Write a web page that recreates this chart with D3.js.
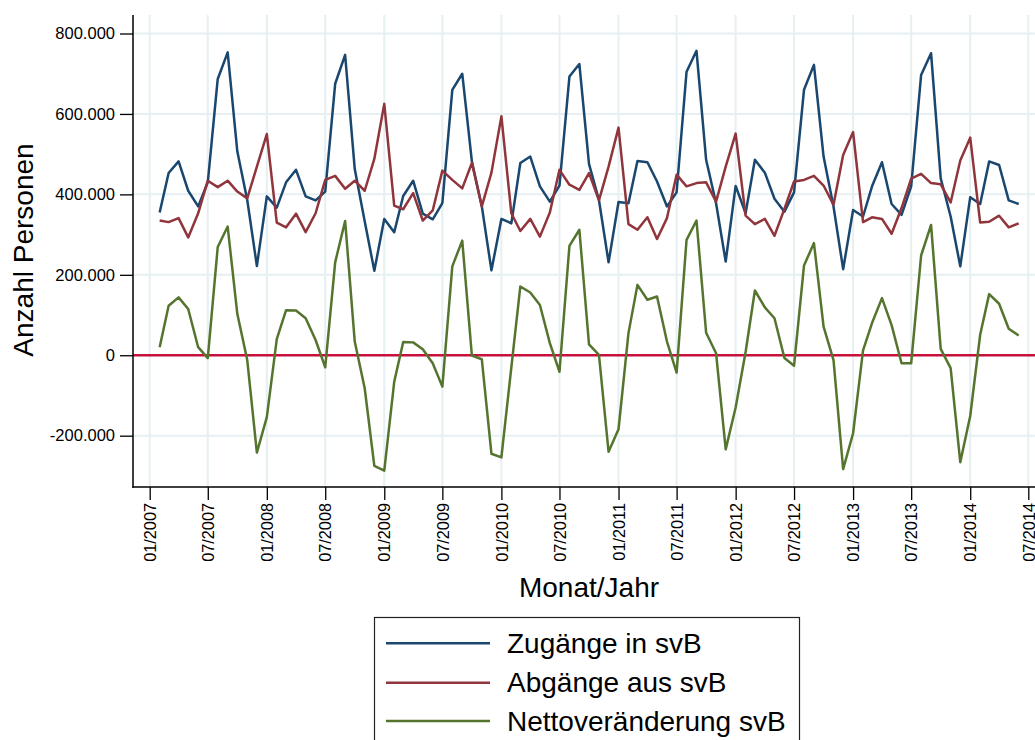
<!DOCTYPE html>
<html>
<head>
<meta charset="utf-8">
<script src="https://cdn.jsdelivr.net/npm/d3@7"></script>
<style>
  html, body { margin: 0; padding: 0; background: #fff; }
  svg { display: block; font-family: "Liberation Sans", Arial, Helvetica, sans-serif; }
</style>
</head>
<body>
<svg id="chart" width="1035" height="740"></svg>
<script>
// ---- Data (thousands of persons), monthly 02/2007 .. 06/2014 ----
const startMonth = [2007, 1]; // year, month index (0-based) -> Feb 2007
const zugaenge = [
  355, 453, 482, 409, 370, 430, 687, 753, 507, 386, 222,
  395, 367, 430, 461, 395, 385, 407, 675, 747, 463, 333, 210,
  339, 306, 396, 434, 352, 338, 378, 660, 700, 482, 370, 211,
  339, 328, 478, 494, 420, 382, 422, 693, 724, 476, 386, 231,
  381, 378, 483, 480, 432, 370, 405, 705, 757, 486, 378, 233,
  421, 353, 486, 454, 389, 357, 405, 660, 722, 494, 370, 214,
  361, 345, 420, 480, 376, 349, 420, 697, 751, 440, 345, 221,
  393, 376, 482, 473, 385, 376
];
const abgaenge = [
  335, 331, 341, 293, 353, 434, 418, 434, 407, 390, 469,
  550, 330, 318, 352, 306, 353, 436, 446, 414, 434, 409, 488,
  625, 372, 363, 403, 335, 360, 459, 436, 415, 478, 370, 454,
  594, 353, 309, 339, 295, 355, 461, 424, 411, 453, 385, 469,
  566, 326, 312, 343, 289, 341, 449, 420, 428, 430, 382, 469,
  551, 347, 326, 339, 297, 364, 432, 436, 446, 422, 374, 498,
  555, 331, 343, 339, 302, 366, 439, 451, 428, 425, 380, 484,
  541, 330, 332, 347, 318, 328
];
const netto = [
  20, 123, 144, 115, 20, -7, 269, 320, 103, -12, -242,
  -154, 40, 112, 111, 92, 38, -30, 231, 334, 34, -82, -275,
  -287, -66, 33, 32, 15, -20, -78, 221, 285, -1, -10, -245,
  -254, -30, 171, 156, 125, 30, -41, 272, 312, 27, 1, -240,
  -184, 55, 175, 138, 146, 34, -43, 287, 335, 56, 5, -234,
  -130, 8, 161, 119, 92, -7, -26, 223, 279, 71, -12, -283,
  -194, 12, 80, 142, 75, -20, -20, 248, 324, 16, -32, -266,
  -151, 51, 152, 128, 66, 49
];
const seriesNames = ["Zugänge in svB", "Abgänge aus svB", "Nettoveränderung svB"];
const seriesColors = ["#1a476f", "#90353b", "#55752f"];
const yTickValues = [-200, 0, 200, 400, 600, 800];
const yTickLabels = ["-200.000", "0", "200.000", "400.000", "600.000", "800.000"];
const xTickLabels = ["01/2007","07/2007","01/2008","07/2008","01/2009","07/2009","01/2010","07/2010",
                     "01/2011","07/2011","01/2012","07/2012","01/2013","07/2013","01/2014","07/2014"];
const yTitle = "Anzahl Personen";
const xTitle = "Monat/Jahr";

// ---- Layout ----
const svg = d3.select("#chart");
const plotLeft = 133, plotRight = 1045, plotTop = 15, plotBottom = 487;

const months = zugaenge.map((_, i) => new Date(Date.UTC(startMonth[0], startMonth[1] + i, 1)));
const xTickDates = xTickLabels.map(s => { const [m, y] = s.split("/"); return new Date(Date.UTC(+y, +m - 1, 1)); });

const x = d3.scaleUtc()
  .domain([new Date(Date.UTC(2007, 0, 1)), new Date(Date.UTC(2014, 6, 1))])
  .range([149.7, 1028.3]);
const y = d3.scaleLinear().domain([-327.6, 846]).range([plotBottom, plotTop]);

// gridlines
const grid = svg.append("g");
grid.selectAll("line.v").data(xTickDates).join("line")
  .attr("x1", d => x(d)).attr("x2", d => x(d))
  .attr("y1", plotTop).attr("y2", plotBottom)
  .attr("stroke", "#e6eff2").attr("stroke-width", 2);
grid.selectAll("line.h").data(yTickValues).join("line")
  .attr("x1", plotLeft).attr("x2", plotRight)
  .attr("y1", d => y(d)).attr("y2", d => y(d))
  .attr("stroke", "#e6eff2").attr("stroke-width", 2);

// zero line
svg.append("line")
  .attr("x1", plotLeft).attr("x2", plotRight)
  .attr("y1", y(0)).attr("y2", y(0))
  .attr("stroke", "#c8103c").attr("stroke-width", 2.5);

// series
const allSeries = [zugaenge, abgaenge, netto];
const line = d3.line().x((d, i) => x(months[i])).y(d => y(d));
allSeries.forEach((vals, k) => {
  svg.append("path").datum(vals)
    .attr("fill", "none")
    .attr("stroke", seriesColors[k])
    .attr("stroke-width", 2.5)
    .attr("stroke-linejoin", "round")
    .attr("d", line);
});

// y axis
const yAxis = d3.axisLeft(y).tickValues(yTickValues)
  .tickFormat((d, i) => yTickLabels[i]).tickSize(13).tickPadding(5).tickSizeOuter(0);
const gy = svg.append("g").attr("transform", `translate(${plotLeft},0)`).call(yAxis);
gy.select(".domain").remove();
gy.selectAll(".tick line").attr("stroke", "#000").attr("stroke-width", 1.3);
gy.selectAll(".tick text").attr("font-size", 16.5).attr("fill", "#000")
  .attr("font-family", "Liberation Sans, Arial, sans-serif");

// x axis
const xAxis = d3.axisBottom(x).tickValues(xTickDates)
  .tickFormat((d, i) => xTickLabels[i]).tickSize(13).tickSizeOuter(0);
const gx = svg.append("g").attr("transform", `translate(0,${plotBottom})`).call(xAxis);
gx.select(".domain").remove();
gx.selectAll(".tick line").attr("stroke", "#000").attr("stroke-width", 1.3);
gx.selectAll(".tick text")
  .attr("font-size", 16.3).attr("fill", "#000")
  .attr("font-family", "Liberation Sans, Arial, sans-serif")
  .attr("transform", "rotate(-90)")
  .attr("text-anchor", "end")
  .attr("x", -16).attr("y", 0).attr("dy", "0.35em");

// axis lines
svg.append("line").attr("x1", plotLeft).attr("x2", plotLeft)
  .attr("y1", plotTop).attr("y2", plotBottom + 0.7)
  .attr("stroke", "#000").attr("stroke-width", 1.5);
svg.append("line").attr("x1", plotLeft - 0.7).attr("x2", plotRight)
  .attr("y1", plotBottom).attr("y2", plotBottom)
  .attr("stroke", "#000").attr("stroke-width", 1.5);

// titles
svg.append("text").attr("transform", "translate(33,250) rotate(-90)")
  .attr("text-anchor", "middle").attr("font-size", 28).attr("fill", "#000").text(yTitle);
svg.append("text").attr("x", 589).attr("y", 597)
  .attr("text-anchor", "middle").attr("font-size", 28).attr("fill", "#000").text(xTitle);

// legend
const lg = svg.append("g");
lg.append("rect").attr("x", 374.5).attr("y", 617.5).attr("width", 425).attr("height", 140)
  .attr("fill", "#fff").attr("stroke", "#222").attr("stroke-width", 1.2);
const legY = [643.3, 682.7, 721];
seriesNames.forEach((name, k) => {
  lg.append("line").attr("x1", 386).attr("x2", 490).attr("y1", legY[k]).attr("y2", legY[k])
    .attr("stroke", seriesColors[k]).attr("stroke-width", 2.5);
  lg.append("text").attr("x", 507).attr("y", legY[k] + 9.5)
    .attr("font-size", 28).attr("fill", "#000").text(name);
});
</script>
</body>
</html>
